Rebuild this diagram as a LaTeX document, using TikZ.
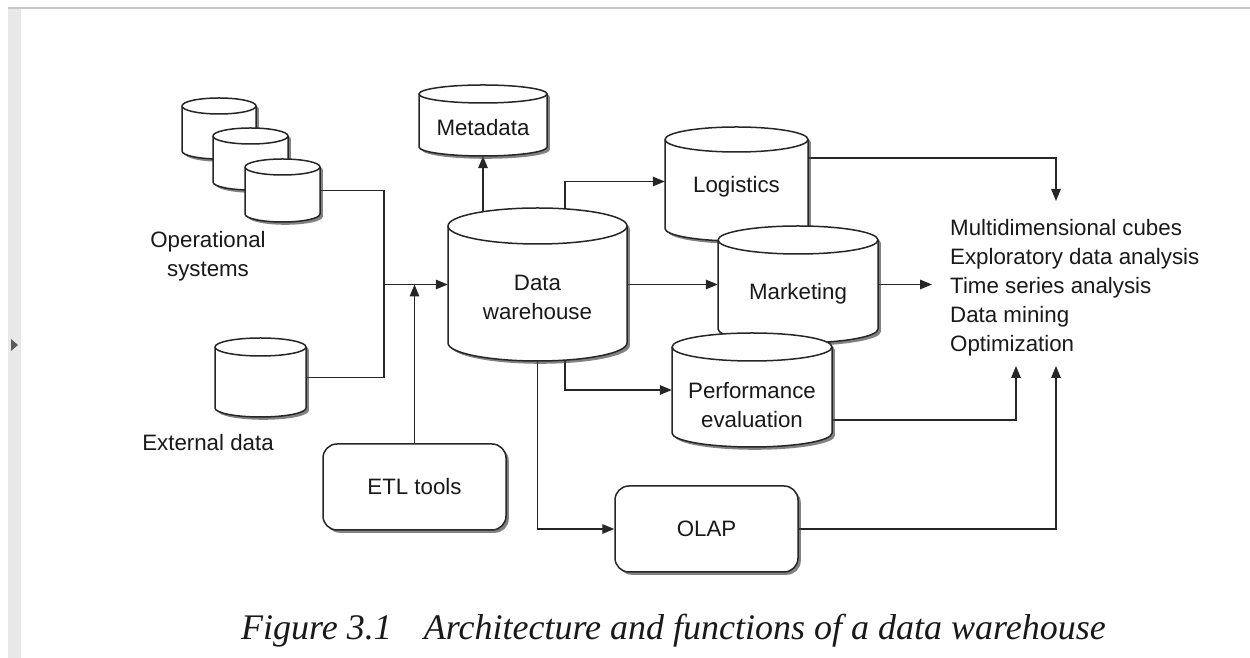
\documentclass[tikz,border=0pt]{standalone}
\usepackage{fontspec}
\setmainfont{Liberation Sans}
\newfontfamily\capfont{Liberation Serif}
\usetikzlibrary{shadows,arrows.meta,backgrounds}
\pgfdeclarelayer{canvas}
\pgfsetlayers{canvas,background,main}

\newcommand\lbfont{\fontsize{22.3}{29.2}\selectfont}

% \dbcyl{name}{x left}{x right}{y top}{y bottom}{rim radius}{label}{label drop}
% (y measured downward from the top edge of the page)
\newcommand\dbcyl[8]{%
  \pgfmathsetmacro\cxa{#2}%
  \pgfmathsetmacro\cxb{#3}%
  \pgfmathsetmacro\crx{(#3-#2)/2}%
  \pgfmathsetmacro\cyt{658-(#4)-(#6)}%
  \pgfmathsetmacro\cyb{658-(#5)+(#6)}%
  \path[cylbody] (\cxa,\cyt) -- (\cxa,\cyb)
     arc[start angle=180,end angle=360,x radius=\crx,y radius=#6]
     -- (\cxb,\cyt)
     arc[start angle=0,end angle=180,x radius=\crx,y radius=#6] -- cycle;
  \draw[ink] (\cxa,\cyt) arc[start angle=180,end angle=360,x radius=\crx,y radius=#6];
  \node[inner sep=0pt,minimum width={(#3-#2)*1pt},minimum height={(#5-#4)*1pt}]
     (#1) at ({(#2+#3)/2},{658-(#4+#5)/2}) {};
  \if\relax\detokenize{#7}\relax\else
    \node[lbl] (#1-text) at ({(#2+#3)/2},{658-(#4+#5)/2-(#8)}) {#7};
  \fi
}

\begin{document}
\begin{tikzpicture}[x=1pt,y=1pt,
  ink/.style={draw=black!85, line width=1.5pt},
  cylbody/.style={ink, fill=white,
     drop shadow={shadow xshift=2.8pt, shadow yshift=-2.8pt, opacity=.65, fill=black!75}},
  lbl/.style={font=\lbfont, text=black!90, align=center, inner sep=0pt},
  roundbox/.style={ink, fill=white, rounded corners=14pt, font=\lbfont, text=black!90,
     inner sep=0pt,
     drop shadow={shadow xshift=2.8pt, shadow yshift=-2.8pt, opacity=.65, fill=black!75}},
  arr/.style={ink, -{Triangle[length=12pt,width=9.5pt]}},
]
\useasboundingbox (0,0) rectangle (1250,658);
\begin{pgfonlayer}{canvas}
  \fill[white] (0,0) rectangle (1250,658);
  % viewer frame
  \fill[black!9] (8,0) rectangle (21,650);
  \draw[black!22, line width=1.2pt] (8,650) -- (1250,650);
  \fill[black!65] (11,319) -- (18,313) -- (11,307) -- cycle;
\end{pgfonlayer}

% operational systems
\dbcyl{op1}{182}{256}{98}{159}{8}{}{0}
\dbcyl{op2}{213}{288}{128}{190}{8}{}{0}
\dbcyl{op3}{245}{320}{159}{222}{8}{}{0}
\node[lbl] (opsys) at (208,402) {Operational\\systems};

% external data
\dbcyl{ext}{215}{306}{338}{417}{9}{}{0}
\node[lbl] (extlbl) at (208,215) {External data};

% central store and metadata
\dbcyl{meta}{419}{547}{85}{156}{9}{Metadata}{7.5}
\dbcyl{dw}{448}{627}{208}{361}{18}{Data\\warehouse}{13}

% data marts
\dbcyl{log}{665}{808}{127}{241}{12.5}{Logistics}{3}
\dbcyl{mkt}{718}{878}{226}{343}{14}{Marketing}{9.5}
\dbcyl{pe}{672}{832}{333}{447}{14}{Performance\\evaluation}{15}

% tools
\node[roundbox, minimum width=183pt, minimum height=86pt] (etl) at (414.5,171) {ETL tools};
\node[roundbox, minimum width=183pt, minimum height=86pt] (olap) at (706.5,129) {OLAP};

% analyses
\node[lbl, align=left, anchor=west] (apps) at (950,370.3)
  {Multidimensional cubes\\Exploratory data analysis\\Time series analysis\\Data mining\\Optimization};

\coordinate (j) at (384,373.5);
\coordinate (a1) at (1056,457);
\coordinate (a2) at (932,0);
\coordinate (a3) at (1016,292);
\coordinate (a4) at (1056,292);

\begin{pgfonlayer}{background}
  \draw[ink] (op3.east) -| (j) |- (ext.east);
  \draw[arr] (j) -- (j -| dw.west);
  \draw[arr] (etl.north) -- (etl.north |- j);
  \draw[arr] (meta.south |- dw.center) -- (meta.south);
  \draw[arr] ([xshift=27.5pt]dw.center) |- ([yshift=2.5pt]log.west);
  \draw[arr] ([xshift=27.5pt]dw.center) |- (pe.west);
  \draw[arr] (dw.center) |- (olap.west);
  \draw[arr] (dw.center) -- (dw.center -| mkt.west);
  \draw[arr] ([yshift=26pt]log.center) -| (a1);
  \draw[arr] (mkt.center) -- (mkt.center -| a2);
  \draw[arr] ([yshift=-30pt]pe.center) -| (a3);
  \draw[arr] (olap.east) -| (a4);
\end{pgfonlayer}

% caption
\node[anchor=base west, inner sep=0pt, text=black!90] (caption) at (241,18)
  {\capfont\itshape\fontsize{36}{40}\selectfont Figure 3.1\hspace{32pt}Architecture and functions of a data warehouse};
\end{tikzpicture}
\end{document}
